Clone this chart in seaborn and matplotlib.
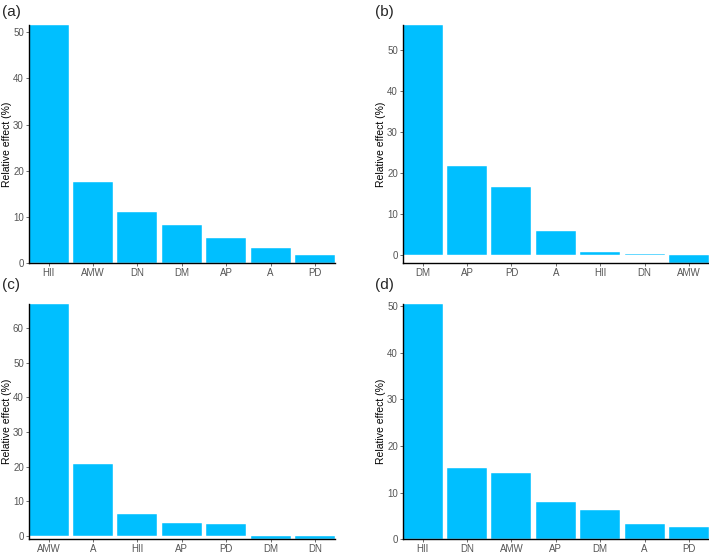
import matplotlib
matplotlib.use("Agg")
import matplotlib.pyplot as plt
import seaborn as sns

# Relative effects
cats_a = ["HII", "AMW", "DN", "DM", "AP", "A", "PD"]
vals_a = [51.6, 17.5, 11.0, 8.3, 5.4, 3.2, 1.7]

cats_b = ["DM", "AP", "PD", "A", "HII", "DN", "AMW"]
vals_b = [56.0, 21.6, 16.6, 5.8, 0.7, 0.4, -1.9]

cats_c = ["AMW", "A", "HII", "AP", "PD", "DM", "DN"]
vals_c = [67.1, 20.9, 6.4, 3.7, 3.3, -0.9, -0.9]

cats_d = ["HII", "DN", "AMW", "AP", "DM", "A", "PD"]
vals_d = [50.6, 15.3, 14.2, 7.9, 6.25, 3.3, 2.55]

panel_labels = ["(a)", "(b)", "(c)", "(d)"]

sns.set_style("white")
plt.rcParams["font.family"] = ["Liberation Sans", "DejaVu Sans"]

fig = plt.figure(figsize=(7.09, 5.54), dpi=100)

# axes rectangles in figure fractions
rects = [
    [0.0405, 0.525, 0.432, 0.430],
    [0.568, 0.525, 0.432, 0.430],
    [0.0405, 0.027, 0.432, 0.425],
    [0.568, 0.027, 0.432, 0.425],
]
label_pos = [(0.003, 0.978), (0.529, 0.978), (0.003, 0.486), (0.529, 0.486)]

data = [(cats_a, vals_a), (cats_b, vals_b), (cats_c, vals_c), (cats_d, vals_d)]

for rect, (cats, vals), lab, lpos in zip(rects, data, panel_labels, label_pos):
    ax = fig.add_axes(rect)
    sns.barplot(x=cats, y=vals, order=cats, color="#00BFFF", saturation=1,
                width=0.9, edgecolor="white", linewidth=0.3, ax=ax)
    ax.set_xlim(-0.45, len(cats) - 0.55)
    ax.set_ylim(min(0, min(vals)), max(vals))
    ax.set_ylabel("Relative effect (%)", fontsize=7.5, color="black", labelpad=1)
    ax.set_xlabel("")
    ax.tick_params(axis="both", labelsize=7, colors="#555555", length=2,
                   width=0.6, pad=1.5, left=True, bottom=True)
    for side in ["top", "right"]:
        ax.spines[side].set_visible(False)
    for side in ["left", "bottom"]:
        ax.spines[side].set_color("black")
        ax.spines[side].set_linewidth(1.0)
    fig.text(lpos[0], lpos[1], lab, fontsize=11, ha="left", va="center")

fig.savefig("out.png", dpi=100)
